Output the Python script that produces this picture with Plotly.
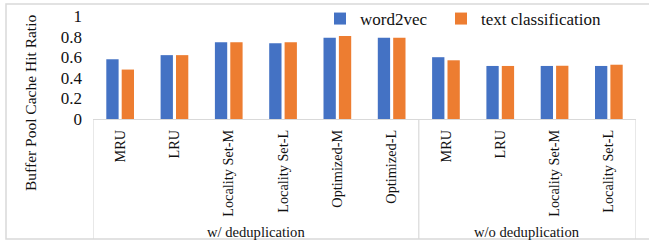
import plotly.graph_objects as go

categories = ["MRU", "LRU", "Locality Set-M", "Locality Set-L", "Optimized-M", "Optimized-L",
              "MRU", "LRU", "Locality Set-M", "Locality Set-L"]
groups = ["w/ deduplication"] * 6 + ["w/o deduplication"] * 4
word2vec = [0.58, 0.62, 0.745, 0.735, 0.79, 0.79, 0.60, 0.515, 0.515, 0.515]
text_classification = [0.48, 0.62, 0.745, 0.745, 0.805, 0.79, 0.57, 0.515, 0.517, 0.527]
y_ticks = [0, 0.2, 0.4, 0.6, 0.8, 1]

x = list(range(len(categories)))
FONT = "Liberation Serif"
TXT = "#111111"

fig = go.Figure()
fig.add_trace(go.Bar(x=x, y=word2vec, name="word2vec", legend="legend",
                     marker=dict(color="#4472C4", line=dict(width=0))))
fig.add_trace(go.Bar(x=x, y=text_classification, name="text classification", legend="legend2",
                     marker=dict(color="#ED7D31", line=dict(width=0))))

# plot area geometry (pixels)
L, R, T, B = 93, 636, 16, 119
W, H = 649, 241
pw, ph = R - L, B - T

def px_x(px):
    return (px - L) / pw

def px_y(py):
    return (B - py) / ph

shapes = []
shapes.append(dict(type="rect", xref="paper", yref="paper", x0=px_x(6), x1=px_x(660),
                   y0=px_y(239), y1=px_y(4), line=dict(color="#d9d9d9", width=1.5), layer="below"))
n = len(categories)
bounds = [-0.5, 5.5, n - 0.5]
for b in bounds:
    shapes.append(dict(type="line", xref="x", yref="paper", x0=b, x1=b, y0=0, y1=px_y(239),
                       line=dict(color="#d9d9d9", width=1.2)))

annotations = []
grp_names = []
for g in groups:
    if g not in grp_names:
        grp_names.append(g)
for gname in grp_names:
    idx = [i for i, g in enumerate(groups) if g == gname]
    cx = (idx[0] + idx[-1]) / 2
    annotations.append(dict(text=gname, x=cx, xref="x", y=px_y(232), yref="paper", showarrow=False,
                            font=dict(family=FONT, size=14.6, color=TXT),
                            xanchor="center", yanchor="middle"))
annotations.append(dict(text="Buffer Pool Cache Hit Ratio", textangle=-90, x=px_x(30), xref="paper",
                        y=px_y(103), yref="paper", showarrow=False, xanchor="center", yanchor="middle",
                        font=dict(family=FONT, size=15.5, color=TXT)))

legend_style = dict(orientation="h", y=px_y(19), xanchor="left", yanchor="middle",
                    font=dict(family=FONT, size=17, color=TXT), bgcolor="rgba(0,0,0,0)", itemwidth=30)

fig.update_layout(
    width=W, height=H,
    margin=dict(l=L, r=W - R, t=T, b=H - B, pad=0, autoexpand=False),
    plot_bgcolor="white", paper_bgcolor="white",
    font=dict(family=FONT, color=TXT),
    barmode="group", bargap=0.433, bargroupgap=0.2,
    showlegend=True,
    legend=dict(x=px_x(320), **legend_style),
    legend2=dict(x=px_x(441), **legend_style),
    xaxis=dict(tickmode="array", tickvals=x, ticktext=categories, tickangle=-90, range=[-0.5, n - 0.5],
               showline=True, linecolor="#d9d9d9", linewidth=1.2, ticks="", showgrid=False, zeroline=False,
               automargin=False, ticklabelstandoff=4,
               tickfont=dict(family=FONT, size=14.3, color=TXT)),
    yaxis=dict(range=[0, 1], tickvals=y_ticks, showgrid=False, zeroline=False, showline=False, ticks="",
               ticklabelstandoff=10, automargin=False,
               tickfont=dict(family=FONT, size=17, color=TXT)),
    shapes=shapes, annotations=annotations,
)

fig.write_html("out.html", config={"displayModeBar": False},
               post_script="document.body.style.margin='0';document.body.style.overflow='hidden';")
